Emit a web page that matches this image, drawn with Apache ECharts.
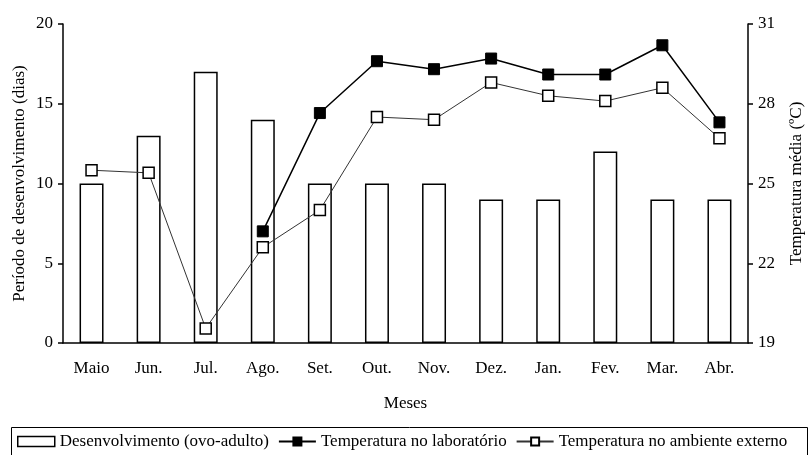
<!DOCTYPE html>
<html>
<head>
<meta charset="utf-8">
<script src="https://cdn.jsdelivr.net/npm/echarts@6/dist/echarts.min.js"></script>
<style>
html,body{margin:0;padding:0;background:#fff;}
#chart{width:808px;height:455px;}
</style>
</head>
<body>
<div id="chart"></div>
<script>
const categories = ['Maio','Jun.','Jul.','Ago.','Set.','Out.','Nov.','Dez.','Jan.','Fev.','Mar.','Abr.'];
const desenvolvimento = [10, 13, 17, 14, 10, 10, 10, 9, 9, 12, 9, 9];
const tempLaboratorio = [null, null, null, 23.2, 27.65, 29.6, 29.3, 29.7, 29.1, 29.1, 30.2, 27.3];
const tempExterno = [25.5, 25.4, 19.55, 22.6, 24.0, 27.5, 27.4, 28.8, 28.3, 28.1, 28.6, 26.7];
const leftTicks = [0, 5, 10, 15, 20];
const rightTicks = [19, 22, 25, 28, 31];

const FONT = 'Liberation Serif';
const FS = 17;
const chart = echarts.init(document.getElementById('chart'), null, {renderer: 'canvas'});
chart.setOption({
  animation: false,
  backgroundColor: '#fff',
  textStyle: {fontFamily: FONT, color: '#000'},
  grid: {left: 63, right: 60, top: 24, bottom: 112, containLabel: false, outerBoundsMode: 'none'},
  graphic: [{
    type: 'rect', left: 9, top: 425, shape: {width: 796, height: 40},
    style: {fill: 'none', stroke: '#000', lineWidth: 1}, silent: true, z: 0
  }],
  legend: {
    left: 12, top: 428, itemWidth: 37, itemHeight: 10, itemGap: 9,
    textStyle: {fontFamily: FONT, fontSize: FS, color: '#000'},
    data: [
      {name: 'Desenvolvimento (ovo-adulto)', icon: 'rect', itemStyle: {color: '#fff', borderColor: '#000', borderWidth: 1.5}},
      {name: 'Temperatura no laboratório'},
      {name: 'Temperatura no ambiente externo'}
    ]
  },
  xAxis: {
    type: 'category', data: categories, boundaryGap: true,
    name: 'Meses', nameLocation: 'middle', nameGap: 52, nameMoveOverlap: false,
    nameTextStyle: {fontFamily: FONT, fontSize: FS, color: '#000'},
    axisLine: {lineStyle: {color: '#000', width: 1.5}},
    axisTick: {show: false},
    axisLabel: {fontFamily: FONT, fontSize: FS, color: '#000', margin: 17, interval: 0}
  },
  yAxis: [{
    type: 'value', min: 0, max: 20, interval: 5, position: 'left',
    name: 'Período de desenvolvimento (dias)', nameLocation: 'middle', nameGap: 35, nameRotate: 90,
    nameMoveOverlap: false,
    nameTextStyle: {fontFamily: FONT, fontSize: FS, color: '#000'},
    axisLine: {show: true, lineStyle: {color: '#000', width: 1.5}},
    axisTick: {show: true, inside: false, length: 5, lineStyle: {color: '#000', width: 1.5}},
    axisLabel: {fontFamily: FONT, fontSize: FS, color: '#000', margin: 10,
      customValues: leftTicks},
    splitLine: {show: false}
  }, {
    type: 'value', min: 19, max: 31, position: 'right',
    name: 'Temperatura média (ºC)', nameLocation: 'middle', nameGap: 40, nameRotate: 90,
    nameMoveOverlap: false,
    nameTextStyle: {fontFamily: FONT, fontSize: FS, color: '#000'},
    axisLine: {show: true, lineStyle: {color: '#000', width: 1.5}},
    axisTick: {show: true, inside: false, length: 5, lineStyle: {color: '#000', width: 1.5}, customValues: rightTicks},
    axisLabel: {fontFamily: FONT, fontSize: FS, color: '#000', margin: 10, customValues: rightTicks},
    splitLine: {show: false}
  }],
  series: [{
    name: 'Desenvolvimento (ovo-adulto)', type: 'bar', yAxisIndex: 0,
    data: desenvolvimento, barWidth: '42%',
    itemStyle: {color: '#fff', borderColor: '#000', borderWidth: 1.5}
  }, {
    name: 'Temperatura no laboratório', type: 'line', yAxisIndex: 1,
    data: tempLaboratorio, connectNulls: false,
    symbol: 'rect', symbolSize: 11, showAllSymbol: true,
    lineStyle: {color: '#000', width: 1.5},
    itemStyle: {color: '#000', borderColor: '#000', borderWidth: 1}
  }, {
    name: 'Temperatura no ambiente externo', type: 'line', yAxisIndex: 1,
    data: tempExterno,
    symbol: 'rect', symbolSize: 11, showAllSymbol: true,
    lineStyle: {color: '#333', width: 1},
    itemStyle: {color: '#fff', borderColor: '#000', borderWidth: 1.5}
  }]
});
</script>
</body>
</html>
